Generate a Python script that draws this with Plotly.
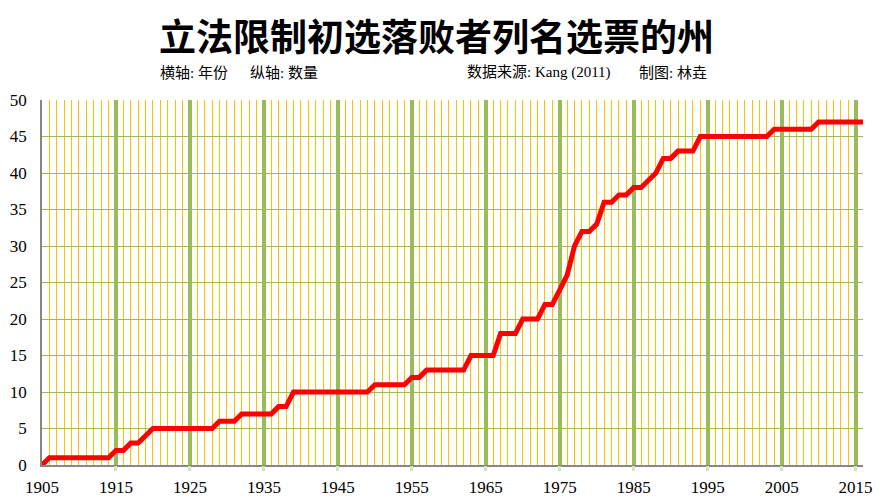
import plotly.graph_objects as go

# ----------------------------------------------------------------------
# Data: states with sore-loser laws, by year
# ----------------------------------------------------------------------
years = list(range(1905, 2017))
state_counts = [
    0, 1, 1, 1, 1, 1, 1, 1, 1, 1,          # 1905-1914
    2, 2, 3, 3, 4, 5, 5, 5, 5, 5,          # 1915-1924
    5, 5, 5, 5, 6, 6, 6, 7, 7, 7,          # 1925-1934
    7, 7, 8, 8, 10, 10, 10, 10, 10, 10,    # 1935-1944
    10, 10, 10, 10, 10, 11, 11, 11, 11, 11,  # 1945-1954
    12, 12, 13, 13, 13, 13, 13, 13, 15, 15,  # 1955-1964
    15, 15, 18, 18, 18, 20, 20, 20, 22, 22,  # 1965-1974
    24, 26, 30, 32, 32, 33, 36, 36, 37, 37,  # 1975-1984
    38, 38, 39, 40, 42, 42, 43, 43, 43, 45,  # 1985-1994
    45, 45, 45, 45, 45, 45, 45, 45, 45, 46,  # 1995-2004
    46, 46, 46, 46, 46, 47, 47, 47, 47, 47,  # 2005-2014
    47, 47,                                  # 2015-2016
]
x_tick_years = [1905, 1915, 1925, 1935, 1945, 1955, 1965, 1975, 1985, 1995, 2005, 2015]
decade_lines = [1915, 1925, 1935, 1945, 1955, 1965, 1975, 1985, 1995, 2005, 2015]
y_ticks = [0, 5, 10, 15, 20, 25, 30, 35, 40, 45, 50]

title_text = "立法限制初选落败者列名选票的州"
sub_notes = [("横轴: 年份", 158), ("纵轴: 数量", 248),
             ("数据来源: Kang (2011)", 465), ("制图: 林垚", 637)]

SERIF = "Liberation Serif, Noto Sans CJK SC, serif"
CJK = "Noto Sans CJK SC, sans-serif"

# the page body has an 8px margin, so the figure starts at (8, 8) in the window
OFF = 8
WIN_W, WIN_H = 881, 501
W, H = WIN_W - OFF, WIN_H - OFF
# plot area in window pixels
L, R, T, B = 42, 863, 100, 465

fig = go.Figure()

fig.add_trace(go.Scatter(
    x=years, y=state_counts, mode='lines',
    line=dict(color='#FF0000', width=5),
    showlegend=False, hoverinfo='x+y', xaxis='x', yaxis='y'
))

# invisible trace on overlay axis so the decade grid gets drawn
fig.add_trace(go.Scatter(
    x=[years[0], years[-1]], y=[0, 0], mode='markers',
    marker=dict(opacity=0), showlegend=False, hoverinfo='skip',
    xaxis='x2', yaxis='y'
))

fig.update_layout(
    width=W, height=H,
    margin=dict(l=L - OFF, r=WIN_W - R, t=T - OFF, b=WIN_H - B, autoexpand=False),
    paper_bgcolor='white', plot_bgcolor='white',
    title=dict(text='<b>' + title_text + '</b>', x=(436.5 - OFF) / W, xanchor='center',
               y=1 - (38 - OFF) / H, yanchor='middle',
               font=dict(family=CJK, size=37, color='black')),
    xaxis=dict(
        range=[years[0], years[-1]], tickmode='array', tickvals=x_tick_years,
        ticktext=[str(v) for v in x_tick_years],
        showgrid=False, zeroline=False,
        showline=True, linecolor='#868686', linewidth=1.5,
        ticks='', ticklabelstandoff=6,
        tickfont=dict(family=SERIF, size=17, color='black'),
        minor=dict(dtick=1, tick0=1905, showgrid=True,
                   gridcolor='#FFC000', gridwidth=1.2),
        layer='below traces',
    ),
    xaxis2=dict(
        range=[years[0], years[-1]], overlaying='x', side='bottom',
        tickmode='array', tickvals=decade_lines, showticklabels=False,
        showgrid=True, gridcolor='#9BBB59', gridwidth=3.5,
        zeroline=False, showline=False,
        ticks='outside', ticklen=5, tickcolor='#D7E4BD', tickwidth=3,
    ),
    yaxis=dict(
        range=[0, 50], tickmode='array', tickvals=y_ticks,
        showgrid=True, gridcolor='#9BBB59', gridwidth=1,
        zeroline=False, showline=True, linecolor='#868686', linewidth=1.5,
        ticks='', ticklabelstandoff=10,
        tickfont=dict(family=SERIF, size=17, color='black'),
    ),
)

for text, px in sub_notes:
    fig.add_annotation(
        text=text, xref='paper', yref='paper',
        x=(px - L) / (R - L), y=(B - 73) / (B - T),
        xanchor='left', yanchor='middle', showarrow=False,
        font=dict(family=SERIF, size=15, color='black'),
    )

fig.write_html("out.html")
